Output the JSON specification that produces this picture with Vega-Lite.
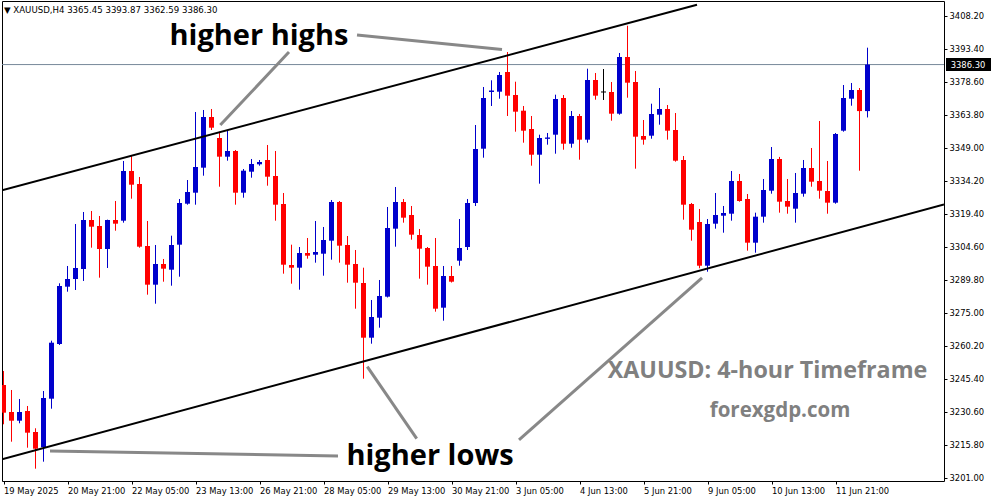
{
  "$schema": "https://vega.github.io/schema/vega-lite/v6.json",
  "width": 942,
  "height": 480,
  "autosize": {"type": "none"},
  "padding": {"left": 2, "top": 1, "right": 47, "bottom": 20},
  "background": "white",
  "config": {
    "view": {"stroke": "black", "strokeWidth": 1},
    "axis": {"grid": false, "domain": false, "tickColor": "black", "tickSize": 3, "labelColor": "black", "labelFont": "DejaVu Sans", "labelFontSize": 8.4, "title": null, "labelOverlap": false, "labelFlush": false, "labelBound": false}
  },
  "datasets": {
    "candles": [
      {"i":0,"open":3242.68,"high":3248.96,"low":3225.07,"close":3230.27},
      {"i":1,"open":3230.58,"high":3240.44,"low":3217.27,"close":3226.68},
      {"i":2,"open":3226.68,"high":3236.41,"low":3225.52,"close":3230.58},
      {"i":3,"open":3231.03,"high":3233.27,"low":3214.58,"close":3221.30},
      {"i":4,"open":3221.62,"high":3223.28,"low":3205.17,"close":3214.13},
      {"i":5,"open":3214.76,"high":3239.99,"low":3208.31,"close":3236.86},
      {"i":6,"open":3236.54,"high":3262.54,"low":3232.06,"close":3261.64},
      {"i":7,"open":3261.06,"high":3288.26,"low":3260.61,"close":3287.05},
      {"i":8,"open":3286.74,"high":3296.02,"low":3284.50,"close":3290.19},
      {"i":9,"open":3290.19,"high":3314.84,"low":3285.26,"close":3295.12},
      {"i":10,"open":3294.67,"high":3320.22,"low":3289.30,"close":3316.64},
      {"i":11,"open":3316.64,"high":3320.67,"low":3304.22,"close":3313.63},
      {"i":12,"open":3313.95,"high":3318.43,"low":3290.78,"close":3303.64},
      {"i":13,"open":3303.64,"high":3316.80,"low":3295.12,"close":3316.64},
      {"i":14,"open":3316.64,"high":3325.15,"low":3311.84,"close":3314.98},
      {"i":15,"open":3316.32,"high":3343.08,"low":3315.43,"close":3338.60},
      {"i":16,"open":3338.60,"high":3345.77,"low":3326.18,"close":3332.46},
      {"i":17,"open":3332.77,"high":3335.91,"low":3304.22,"close":3304.67},
      {"i":18,"open":3304.98,"high":3316.19,"low":3283.16,"close":3287.64},
      {"i":19,"open":3287.64,"high":3305.43,"low":3279.12,"close":3296.92},
      {"i":20,"open":3296.92,"high":3299.16,"low":3288.98,"close":3294.81},
      {"i":21,"open":3294.36,"high":3309.60,"low":3287.19,"close":3305.43},
      {"i":22,"open":3305.57,"high":3326.05,"low":3291.22,"close":3324.26},
      {"i":23,"open":3323.94,"high":3334.56,"low":3323.49,"close":3329.19},
      {"i":24,"open":3328.87,"high":3365.04,"low":3323.49,"close":3340.39},
      {"i":25,"open":3340.08,"high":3365.94,"low":3336.49,"close":3362.80},
      {"i":26,"open":3362.80,"high":3366.39,"low":3356.97,"close":3358.00},
      {"i":27,"open":3353.39,"high":3356.21,"low":3331.56,"close":3345.01},
      {"i":28,"open":3345.01,"high":3356.97,"low":3343.21,"close":3347.56},
      {"i":29,"open":3347.56,"high":3348.01,"low":3323.49,"close":3328.87},
      {"i":30,"open":3328.87,"high":3339.49,"low":3326.63,"close":3338.73},
      {"i":31,"open":3338.28,"high":3343.98,"low":3335.59,"close":3341.74},
      {"i":32,"open":3341.60,"high":3343.53,"low":3340.97,"close":3342.63},
      {"i":33,"open":3343.53,"high":3350.25,"low":3332.01,"close":3336.04},
      {"i":34,"open":3336.36,"high":3347.56,"low":3316.32,"close":3323.49},
      {"i":35,"open":3323.81,"high":3328.74,"low":3292.57,"close":3296.60},
      {"i":36,"open":3296.47,"high":3305.57,"low":3288.09,"close":3295.26},
      {"i":37,"open":3295.26,"high":3304.53,"low":3285.40,"close":3301.85},
      {"i":38,"open":3301.85,"high":3308.57,"low":3299.29,"close":3300.64},
      {"i":39,"open":3301.08,"high":3316.19,"low":3297.50,"close":3302.29},
      {"i":40,"open":3301.53,"high":3313.50,"low":3291.67,"close":3307.67},
      {"i":41,"open":3307.36,"high":3325.60,"low":3298.84,"close":3324.70},
      {"i":42,"open":3324.70,"high":3325.15,"low":3297.50,"close":3305.12},
      {"i":43,"open":3305.43,"high":3309.46,"low":3288.53,"close":3296.60},
      {"i":44,"open":3296.92,"high":3303.19,"low":3276.88,"close":3288.53},
      {"i":45,"open":3288.40,"high":3295.26,"low":3245.51,"close":3263.88},
      {"i":46,"open":3263.88,"high":3280.78,"low":3261.19,"close":3273.16},
      {"i":47,"open":3272.85,"high":3289.74,"low":3268.37,"close":3282.57},
      {"i":48,"open":3282.26,"high":3322.46,"low":3281.90,"close":3313.05},
      {"i":49,"open":3312.74,"high":3331.43,"low":3304.67,"close":3324.70},
      {"i":50,"open":3324.70,"high":3326.05,"low":3315.43,"close":3317.67},
      {"i":51,"open":3318.88,"high":3322.91,"low":3307.81,"close":3310.05},
      {"i":52,"open":3309.91,"high":3312.60,"low":3290.33,"close":3303.77},
      {"i":53,"open":3304.09,"high":3304.53,"low":3287.64,"close":3295.71},
      {"i":54,"open":3296.02,"high":3308.57,"low":3275.54,"close":3276.88},
      {"i":55,"open":3277.33,"high":3296.02,"low":3271.50,"close":3291.54},
      {"i":56,"open":3291.54,"high":3296.02,"low":3288.60,"close":3288.98},
      {"i":57,"open":3298.39,"high":3317.08,"low":3296.15,"close":3304.09},
      {"i":58,"open":3304.53,"high":3326.05,"low":3303.19,"close":3324.26},
      {"i":59,"open":3324.26,"high":3359.21,"low":3322.91,"close":3348.46},
      {"i":60,"open":3348.59,"high":3376.25,"low":3344.56,"close":3371.32},
      {"i":61,"open":3374.01,"high":3379.25,"low":3367.73,"close":3374.45},
      {"i":62,"open":3374.14,"high":3382.97,"low":3371.00,"close":3381.62},
      {"i":63,"open":3382.97,"high":3391.93,"low":3363.25,"close":3372.35},
      {"i":64,"open":3372.66,"high":3378.62,"low":3356.21,"close":3365.18},
      {"i":65,"open":3365.62,"high":3367.73,"low":3351.28,"close":3356.66},
      {"i":66,"open":3357.42,"high":3363.25,"low":3340.97,"close":3345.90},
      {"i":67,"open":3345.90,"high":3354.87,"low":3332.91,"close":3353.39},
      {"i":68,"open":3353.07,"high":3355.63,"low":3350.39,"close":3353.39},
      {"i":69,"open":3354.87,"high":3372.80,"low":3346.35,"close":3370.87},
      {"i":70,"open":3371.32,"high":3372.66,"low":3348.14,"close":3350.83},
      {"i":71,"open":3350.83,"high":3365.49,"low":3349.04,"close":3363.25},
      {"i":72,"open":3363.25,"high":3364.15,"low":3343.66,"close":3352.63},
      {"i":73,"open":3352.63,"high":3384.45,"low":3351.28,"close":3379.38},
      {"i":74,"open":3379.38,"high":3382.52,"low":3370.55,"close":3372.35},
      {"i":75,"open":3374.01,"high":3384.31,"low":3370.42,"close":3374.01},
      {"i":76,"open":3374.01,"high":3378.49,"low":3361.14,"close":3364.28},
      {"i":77,"open":3364.28,"high":3391.49,"low":3363.83,"close":3389.69},
      {"i":78,"open":3389.69,"high":3403.72,"low":3371.45,"close":3378.17},
      {"i":79,"open":3378.49,"high":3383.42,"low":3339.63,"close":3353.97},
      {"i":80,"open":3354.28,"high":3361.46,"low":3350.39,"close":3352.63},
      {"i":81,"open":3354.42,"high":3368.76,"low":3353.07,"close":3364.15},
      {"i":82,"open":3363.83,"high":3375.80,"low":3359.35,"close":3366.39},
      {"i":83,"open":3366.39,"high":3368.18,"low":3352.63,"close":3356.66},
      {"i":84,"open":3356.97,"high":3364.59,"low":3342.77,"close":3343.21},
      {"i":85,"open":3343.53,"high":3345.32,"low":3316.77,"close":3323.49},
      {"i":86,"open":3323.81,"high":3324.26,"low":3307.36,"close":3312.29},
      {"i":87,"open":3315.74,"high":3321.57,"low":3294.99,"close":3296.15},
      {"i":88,"open":3296.15,"high":3317.08,"low":3293.46,"close":3314.84},
      {"i":89,"open":3314.98,"high":3328.74,"low":3312.74,"close":3318.88},
      {"i":90,"open":3318.56,"high":3322.91,"low":3310.94,"close":3319.77},
      {"i":91,"open":3319.46,"high":3338.60,"low":3316.32,"close":3334.12},
      {"i":92,"open":3334.12,"high":3337.25,"low":3324.84,"close":3325.15},
      {"i":93,"open":3326.05,"high":3328.29,"low":3302.88,"close":3306.46},
      {"i":94,"open":3306.46,"high":3319.91,"low":3301.98,"close":3318.12},
      {"i":95,"open":3318.12,"high":3335.01,"low":3315.43,"close":3330.08},
      {"i":96,"open":3329.77,"high":3349.35,"low":3328.42,"close":3343.98},
      {"i":97,"open":3343.98,"high":3344.90,"low":3319.91,"close":3324.84},
      {"i":98,"open":3325.15,"high":3335.01,"low":3319.46,"close":3322.60},
      {"i":99,"open":3321.70,"high":3337.70,"low":3315.43,"close":3328.74},
      {"i":100,"open":3328.42,"high":3343.53,"low":3327.08,"close":3339.94},
      {"i":101,"open":3339.94,"high":3348.91,"low":3331.56,"close":3333.80},
      {"i":102,"open":3334.12,"high":3361.01,"low":3326.18,"close":3329.77},
      {"i":103,"open":3329.63,"high":3343.08,"low":3319.46,"close":3324.39},
      {"i":104,"open":3324.39,"high":3355.63,"low":3323.94,"close":3355.18},
      {"i":105,"open":3356.66,"high":3377.14,"low":3356.21,"close":3371.32},
      {"i":106,"open":3371.00,"high":3378.04,"low":3367.86,"close":3374.90},
      {"i":107,"open":3374.90,"high":3375.80,"low":3338.73,"close":3365.45},
      {"i":108,"open":3365.45,"high":3393.87,"low":3362.59,"close":3386.30}
    ],
    "channel": [
      {"i":-0.1875,"p":3329.99,"i2":86.6875,"p2":3413.09},
      {"i":-0.1875,"p":3209.43,"i2":117.5625,"p2":3323.54}
    ],
    "annot": [
      {"i":44.1875,"p":3399.55,"i2":62.3125,"p2":3393.05},
      {"i":35.6875,"p":3391.93,"i2":27.1,"p2":3359.21},
      {"i":5.8125,"p":3213.10,"i2":41.8125,"p2":3210.86},
      {"i":45.475,"p":3250.89,"i2":51.65,"p2":3218.61},
      {"i":64.4375,"p":3218.03,"i2":87.3125,"p2":3290.64}
    ],
    "price": [{"p":3386.30,"label":"3386.30","i":117.8125,"i2":123.4375,"pt":3389.24,"pb":3383.42,"ic":120.5625}],
    "bigtext": [
      {"i":31.9375,"p":3395.07,"text":"higher highs"},
      {"i":53.3125,"p":3206.83,"text":"higher lows"}
    ],
    "graytext": [
      {"i":95.5,"p":3245.82,"text":"XAUUSD: 4-hour Timeframe","size":"l"},
      {"i":97.0625,"p":3228.34,"text":"forexgdp.com","size":"s"}
    ],
    "header": [{"i":0.0625,"p":3410.76,"text":"▼ XAUUSD,H4  3365.45 3393.87 3362.59 3386.30"}]
  },
  "layer": [
    {
      "data": {"name": "price"},
      "mark": {"type": "rule", "color": "#778899", "strokeWidth": 1, "clip": true},
      "encoding": {
        "y": {"field": "p", "type": "quantitative", "scale": {"domain": [3199.65, 3414.79], "nice": false, "zero": false},
          "axis": {"orient": "right", "values": [3201.0, 3215.8, 3230.6, 3245.4, 3260.2, 3275.0, 3289.8, 3304.6, 3319.4, 3334.2, 3349.0, 3363.8, 3378.6, 3393.4, 3408.2], "tickCount": 30, "format": ".2f", "labelPadding": 2, "labelBaseline": "middle", "labelFlush": false, "labelOverlap": false, "labelBound": false}}
      }
    },
    {
      "data": {"name": "candles"},
      "mark": {"type": "rule", "strokeWidth": 1, "clip": true},
      "encoding": {
        "x": {"field": "i", "type": "quantitative", "scale": {"domain": [-0.1875, 117.5625], "nice": false, "zero": false},
          "axis": {"orient": "bottom", "values": [0, 8, 16, 24, 32, 40, 48, 56, 64, 72, 80, 88, 96, 104], "tickCount": 30, "labelAlign": "left", "labelBaseline": "top", "labelPadding": 2, "labelFlush": false, "labelOverlap": false, "labelBound": false,
            "labelExpr": "['19 May 2025','20 May 21:00','22 May 05:00','23 May 13:00','26 May 21:00','28 May 05:00','29 May 13:00','30 May 21:00','3 Jun 05:00','4 Jun 13:00','5 Jun 21:00','9 Jun 05:00','10 Jun 13:00','11 Jun 21:00'][round(datum.value/8)]"}},
        "y": {"field": "low", "type": "quantitative", "scale": {"domain": [3199.65, 3414.79], "nice": false, "zero": false},
          "axis": {"orient": "right", "values": [3201.0, 3215.8, 3230.6, 3245.4, 3260.2, 3275.0, 3289.8, 3304.6, 3319.4, 3334.2, 3349.0, 3363.8, 3378.6, 3393.4, 3408.2], "tickCount": 30, "format": ".2f", "labelPadding": 2, "labelBaseline": "middle", "labelFlush": false, "labelOverlap": false, "labelBound": false}},
        "y2": {"field": "high"},
        "color": {"condition": [{"test": "datum.close > datum.open", "value": "#0000cc"}, {"test": "datum.close < datum.open", "value": "#ff0000"}], "value": "#000000"}
      }
    },
    {
      "data": {"name": "candles"},
      "mark": {"type": "rule", "strokeWidth": 5, "strokeCap": "butt", "clip": true},
      "encoding": {
        "x": {"field": "i", "type": "quantitative", "scale": {"domain": [-0.1875, 117.5625], "nice": false, "zero": false}},
        "y": {"field": "open", "type": "quantitative", "scale": {"domain": [3199.65, 3414.79], "nice": false, "zero": false}},
        "y2": {"field": "close"},
        "color": {"condition": [{"test": "datum.close > datum.open", "value": "#0000cc"}, {"test": "datum.close < datum.open", "value": "#ff0000"}], "value": "#000000"}
      }
    },
    {
      "data": {"name": "candles"},
      "transform": [{"filter": "abs(datum.close - datum.open) < 0.5"}],
      "mark": {"type": "tick", "orient": "horizontal", "size": 5, "thickness": 1, "opacity": 1, "clip": true},
      "encoding": {
        "x": {"field": "i", "type": "quantitative", "scale": {"domain": [-0.1875, 117.5625], "nice": false, "zero": false}},
        "y": {"field": "close", "type": "quantitative", "scale": {"domain": [3199.65, 3414.79], "nice": false, "zero": false}},
        "color": {"condition": [{"test": "datum.close > datum.open", "value": "#0000cc"}, {"test": "datum.close < datum.open", "value": "#ff0000"}], "value": "#000000"}
      }
    },
    {
      "data": {"name": "channel"},
      "mark": {"type": "rule", "color": "#000000", "strokeWidth": 2, "clip": true},
      "encoding": {
        "x": {"field": "i", "type": "quantitative", "scale": {"domain": [-0.1875, 117.5625], "nice": false, "zero": false}},
        "x2": {"field": "i2"},
        "y": {"field": "p", "type": "quantitative", "scale": {"domain": [3199.65, 3414.79], "nice": false, "zero": false}},
        "y2": {"field": "p2"}
      }
    },
    {
      "data": {"name": "annot"},
      "mark": {"type": "rule", "color": "#888888", "strokeWidth": 3, "clip": true},
      "encoding": {
        "x": {"field": "i", "type": "quantitative", "scale": {"domain": [-0.1875, 117.5625], "nice": false, "zero": false}},
        "x2": {"field": "i2"},
        "y": {"field": "p", "type": "quantitative", "scale": {"domain": [3199.65, 3414.79], "nice": false, "zero": false}},
        "y2": {"field": "p2"}
      }
    },
    {
      "data": {"name": "bigtext"},
      "mark": {"type": "text", "font": "Open Sans", "fontWeight": "bold", "fontSize": 29, "color": "#000000", "align": "center", "baseline": "alphabetic"},
      "encoding": {
        "x": {"field": "i", "type": "quantitative", "scale": {"domain": [-0.1875, 117.5625], "nice": false, "zero": false}},
        "y": {"field": "p", "type": "quantitative", "scale": {"domain": [3199.65, 3414.79], "nice": false, "zero": false}},
        "text": {"field": "text"}
      }
    },
    {
      "data": {"name": "graytext"},
      "mark": {"type": "text", "font": "Open Sans", "fontWeight": "bold", "color": "#808080", "align": "center", "baseline": "alphabetic"},
      "encoding": {
        "x": {"field": "i", "type": "quantitative", "scale": {"domain": [-0.1875, 117.5625], "nice": false, "zero": false}},
        "y": {"field": "p", "type": "quantitative", "scale": {"domain": [3199.65, 3414.79], "nice": false, "zero": false}},
        "text": {"field": "text"},
        "size": {"field": "size", "type": "nominal", "scale": {"domain": ["l", "s"], "range": [23.3, 20.5]}, "legend": null}
      }
    },
    {
      "data": {"name": "header"},
      "mark": {"type": "text", "font": "DejaVu Sans", "fontSize": 8.6, "color": "#000000", "align": "left", "baseline": "middle"},
      "encoding": {
        "x": {"field": "i", "type": "quantitative", "scale": {"domain": [-0.1875, 117.5625], "nice": false, "zero": false}},
        "y": {"field": "p", "type": "quantitative", "scale": {"domain": [3199.65, 3414.79], "nice": false, "zero": false}},
        "text": {"field": "text"}
      }
    },
    {
      "data": {"name": "price"},
      "mark": {"type": "rect", "color": "#000000", "clip": false},
      "encoding": {
        "x": {"field": "i", "type": "quantitative", "scale": {"domain": [-0.1875, 117.5625], "nice": false, "zero": false}},
        "x2": {"field": "i2"},
        "y": {"field": "pt", "type": "quantitative", "scale": {"domain": [3199.65, 3414.79], "nice": false, "zero": false}},
        "y2": {"field": "pb"}
      }
    },
    {
      "data": {"name": "price"},
      "mark": {"type": "text", "font": "DejaVu Sans", "fontSize": 8.4, "color": "#ffffff", "align": "center", "baseline": "middle", "clip": false},
      "encoding": {
        "x": {"field": "ic", "type": "quantitative", "scale": {"domain": [-0.1875, 117.5625], "nice": false, "zero": false}},
        "y": {"field": "p", "type": "quantitative", "scale": {"domain": [3199.65, 3414.79], "nice": false, "zero": false}},
        "text": {"field": "label"}
      }
    }
  ]
}
